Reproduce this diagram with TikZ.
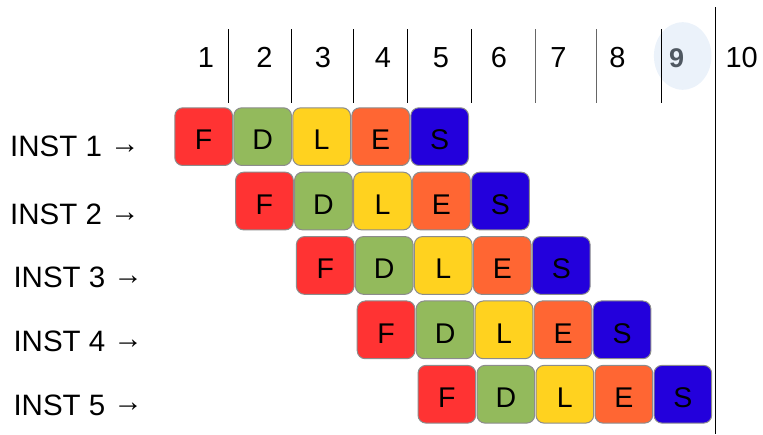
\documentclass[tikz,border=0pt]{standalone}
\usepackage{fontspec}
\setmainfont{Liberation Sans}
\definecolor{cF}{HTML}{FF3333}
\definecolor{cD}{HTML}{93BA5C}
\definecolor{cL}{HTML}{FFD21F}
\definecolor{cE}{HTML}{FF6633}
\definecolor{cS}{HTML}{2300DC}
\definecolor{boxgray}{HTML}{8C8C8C}
\definecolor{hilite}{HTML}{EBF2FA}
\definecolor{ninegray}{HTML}{4F5861}
\newcommand{\rarr}{\raisebox{3pt}{→}}
\begin{document}
\begin{tikzpicture}[x=1pt,y=-1pt,
  stagebox/.style={draw=boxgray, line width=1pt, rounded corners=8pt,
    minimum width=57.7pt, minimum height=57.7pt, inner sep=0pt,
    anchor=north west, text height=26.4pt, text depth=0pt,
    font=\fontsize{28.5}{33}\selectfont},
  numlbl/.style={anchor=base, inner sep=0pt, font=\fontsize{29}{34}\selectfont},
  instlbl/.style={anchor=base west, inner sep=0pt, font=\fontsize{29.5}{34}\selectfont},
  tick/.style={line width=1pt, draw=black},
  grtick/.style={line width=1pt, draw=black!60}]
\useasboundingbox (0,0) rectangle (763,435);
% highlight behind 9
\fill[hilite] (682.7,56) ellipse [x radius=28.8, y radius=33.8];
% header numbers
\node[numlbl] (n1) at (206,67.3) {1};
\node[numlbl] (n2) at (264.5,67.3) {2};
\node[numlbl] (n3) at (323,67.3) {3};
\node[numlbl] (n4) at (383,67.3) {4};
\node[numlbl] (n5) at (441,67.3) {5};
\node[numlbl] (n6) at (499,67.3) {6};
\node[numlbl] (n7) at (558.5,67.3) {7};
\node[numlbl] (n8) at (617.5,67.3) {8};
\node[numlbl,text=ninegray,font=\bfseries\fontsize{27}{32}\selectfont] (n9) at (676.7,67.3) {9};
\node[numlbl] (n10) at (741.7,67.3) {10};
% separators
\coordinate (t1a) at (228.3,29.3); \coordinate (t1b) at (228.3,103.3);
\coordinate (t2a) at (291.7,29.3); \coordinate (t2b) at (291.7,103.3);
\coordinate (t3a) at (353.3,29.3); \coordinate (t3b) at (353.3,103.3);
\coordinate (t4a) at (407.3,29.3); \coordinate (t4b) at (407.3,103.3);
\coordinate (t5a) at (471,29.3); \coordinate (t5b) at (471,103.3);
\coordinate (t6a) at (535.7,29.3); \coordinate (t6b) at (535.7,103.3);
\coordinate (t7a) at (596.7,29.3); \coordinate (t7b) at (596.7,103.3);
\coordinate (t8a) at (661.7,29.3); \coordinate (t8b) at (661.7,103.3);
\coordinate (tla) at (715.3,7.3); \coordinate (tlb) at (715.3,434);
\draw[tick] (t1a) -- (t1b);
\draw[tick] (t2a) -- (t2b);
\draw[tick] (t3a) -- (t3b);
\draw[tick] (t4a) -- (t4b);
\draw[tick] (t5a) -- (t5b);
\draw[grtick] (t6a) -- (t6b);
\draw[grtick] (t7a) -- (t7b);
\draw[tick] (t8a) -- (t8b);
\draw[tick] (tla) -- (tlb);
% instruction labels
\node[instlbl] (i1) at (10,156.7) {INST 1 \rarr};
\node[instlbl] (i2) at (10,224.3) {INST 2 \rarr};
\node[instlbl] (i3) at (13.3,287.7) {INST 3 \rarr};
\node[instlbl] (i4) at (13.3,351.7) {INST 4 \rarr};
\node[instlbl] (i5) at (13.3,415) {INST 5 \rarr};
% stage boxes
\foreach \r in {0,...,4}{
  \foreach \c/\l in {0/F,1/D,2/L,3/E,4/S}{
    \node[stagebox, fill=c\l] (b\r\c) at ({174.3+60.8*\r+59*\c},{107.3+64.4*\r}) {\l};
  }
}
\end{tikzpicture}
\end{document}
